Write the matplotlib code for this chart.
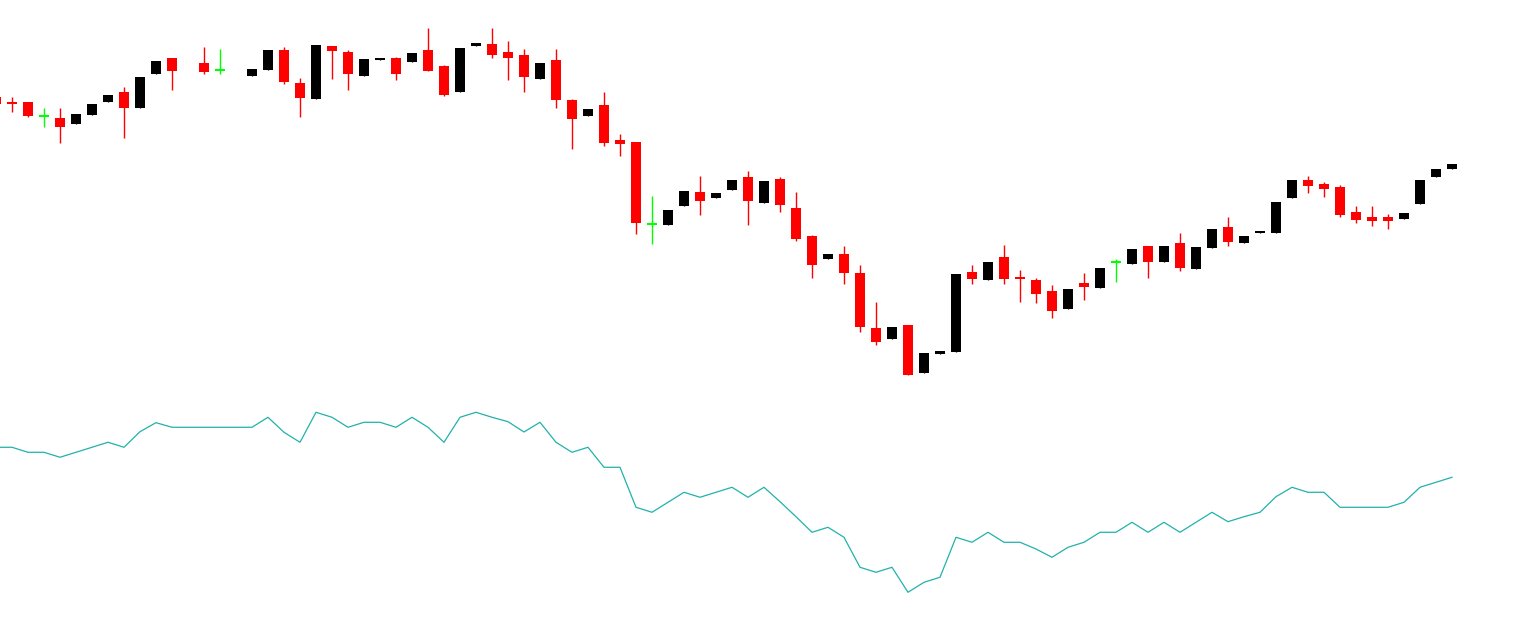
import matplotlib.pyplot as plt
import numpy as np

# candle index (-1 is the one cut off at the left edge)
idx = np.arange(-1, 91)

nan = np.nan
opens = [60.30, 59.80, 59.80, 58.37, 58.20, 57.65, 58.55, 59.85, 60.80, 59.25,
         62.65, 64.20, nan, 63.70, 62.97, nan, 62.45, 63.05, 65.00, 61.70,
         60.15, 65.40, 64.80, 62.45, 64.00, 64.20, 63.80, 65.00, 63.40, 60.85,
         65.45, 65.60, 64.80, 64.50, 62.15, 64.00, 60.00, 58.45, 59.50, 56.00,
         55.80, 47.57, 47.50, 49.40, 50.80, 50.20, 51.00, 52.30, 49.70, 52.10,
         49.20, 46.40, 44.10, 44.60, 42.70, 37.20, 36.10, 37.50, 32.70, 34.60,
         34.80, 42.80, 42.00, 44.30, 42.30, 42.00, 40.90, 39.10, 41.70, 41.20,
         43.80, 43.60, 45.40, 43.80, 45.70, 43.10, 45.20, 47.30, 45.70, 46.70,
         46.70, 50.20, 52.00, 51.60, 51.30, 48.80, 48.30, 48.30, 48.10, 49.60,
         52.30, 53.10]
highs = [60.30, 60.30, 59.80, 59.20, 59.20, 58.60, 59.60, 60.50, 61.30, 62.30,
         63.90, 64.20, nan, 65.30, 65.10, nan, 63.10, 65.00, 65.30, 62.20,
         65.50, 65.40, 65.00, 64.10, 64.20, 64.30, 64.70, 67.20, 63.50, 65.20,
         65.70, 67.20, 65.90, 65.10, 63.70, 65.10, 60.10, 59.10, 60.80, 56.60,
         55.80, 50.40, 49.00, 50.90, 52.40, 50.70, 52.00, 52.90, 51.90, 52.30,
         50.80, 46.50, 44.60, 45.40, 43.50, 39.80, 37.30, 37.50, 34.70, 34.90,
         42.60, 43.50, 43.80, 45.50, 43.00, 42.20, 41.50, 41.10, 42.70, 43.20,
         44.10, 45.10, 45.40, 45.40, 46.70, 45.30, 47.10, 48.30, 46.40, 46.90,
         49.80, 52.00, 52.40, 51.80, 51.50, 49.40, 49.40, 48.60, 48.70, 52.00,
         53.10, 53.60]
lows = [59.60, 58.85, 58.30, 57.30, 55.73, 57.65, 58.55, 59.85, 56.23, 59.25,
        62.65, 61.03, nan, 62.63, 62.63, nan, 62.45, 63.05, 61.63, 58.33,
        60.15, 62.13, 61.03, 62.45, 64.00, 62.03, 63.80, 62.93, 60.43, 60.85,
        65.45, 64.23, 62.03, 60.83, 62.15, 59.23, 55.13, 58.45, 55.43, 54.43,
        46.63, 45.63, 47.50, 49.40, 48.50, 50.20, 51.00, 47.50, 49.70, 48.80,
        45.90, 42.20, 44.10, 41.60, 36.80, 35.50, 36.10, 32.50, 32.70, 34.60,
        34.80, 41.60, 42.00, 41.60, 39.80, 39.70, 38.20, 39.10, 40.00, 41.20,
        41.80, 43.60, 42.23, 43.80, 42.93, 43.10, 45.20, 45.43, 45.70, 46.70,
        46.70, 50.20, 50.70, 50.30, 48.30, 47.70, 47.40, 47.10, 48.10, 49.60,
        52.30, 53.10]
closes = [59.60, 59.65, 58.45, 58.37, 57.30, 58.60, 59.60, 60.50, 59.23, 62.30,
          63.90, 62.93, nan, 62.83, 62.97, nan, 63.10, 65.00, 61.83, 60.23,
          65.50, 64.93, 62.63, 64.10, 64.20, 62.63, 64.70, 62.93, 60.53, 65.20,
          65.70, 64.53, 64.23, 62.33, 63.70, 60.03, 58.13, 59.10, 55.73, 55.63,
          47.73, 47.57, 49.00, 50.90, 49.90, 50.70, 52.00, 49.90, 51.90, 49.50,
          46.10, 43.50, 44.60, 42.70, 37.30, 35.80, 37.30, 32.50, 34.70, 34.90,
          42.60, 42.10, 43.80, 42.10, 42.10, 40.60, 38.90, 41.10, 41.30, 43.20,
          43.80, 45.10, 43.80, 45.40, 43.20, 45.30, 47.10, 45.83, 46.40, 46.90,
          49.80, 52.00, 51.40, 51.10, 48.50, 48.00, 47.90, 47.90, 48.70, 52.00,
          53.10, 53.60]

# oscillator shown under the candles
osc = [53.18, 53.18, 51.93, 51.93, 50.68, 51.93, 53.18, 54.43, 53.18, 57.08,
       59.33, 58.18, 58.18, 58.18, 58.18, 58.18, 58.18, 60.68, 56.93, 54.43,
       61.93, 60.68, 58.18, 59.43, 59.43, 58.18, 60.68, 58.18, 54.43, 60.68,
       61.93, 60.68, 59.58, 57.00, 59.43, 54.43, 51.93, 53.18, 48.18, 48.18,
       38.18, 36.93, 39.43, 41.93, 40.68, 41.93, 43.18, 40.68, 43.18, 39.58,
       35.83, 31.93, 33.18, 30.68, 23.18, 21.93, 23.18, 16.93, 19.43, 20.68,
       30.68, 29.43, 31.93, 29.43, 29.43, 27.75, 25.68, 28.18, 29.43, 31.93,
       31.93, 34.43, 31.93, 34.43, 31.93, 34.43, 36.93, 34.58, 35.83, 36.93,
       40.83, 43.18, 41.93, 41.93, 38.18, 38.18, 38.18, 38.18, 39.43, 43.18,
       44.43, 45.68]

o = np.array(opens)
h = np.array(highs)
l = np.array(lows)
c = np.array(closes)

fig = plt.figure(figsize=(15.34, 6.27), dpi=100)
ax = fig.add_axes([0, 237 / 627, 1, 390 / 627])
ax2 = fig.add_axes([0, 0, 1, 227 / 627])

valid = ~np.isnan(o)
up = valid & (c > o)
down = valid & (c < o)
doji = valid & (c == o)

# wicks
for mask, col in ((up, "black"), (down, "#ff0000"), (doji, "#00ff00")):
    ax.vlines(idx[mask], l[mask], h[mask], color=col, lw=1.0)

# bodies
ax.bar(idx[up], c[up] - o[up], bottom=o[up], width=0.6, color="black", lw=0)
ax.bar(idx[down], o[down] - c[down], bottom=c[down], width=0.68,
       color="#ff0000", lw=0)
ax.hlines(c[doji], idx[doji] - 0.34, idx[doji] + 0.34, color="#00ff00", lw=1.5)

ax.set_xlim(-0.75, 95.125)
ax.set_ylim(31.0, 70.0)
ax.axis("off")

ax2.plot(idx, osc, color="#20b2aa", lw=0.9)
ax2.set_xlim(-0.75, 95.125)
ax2.set_ylim(8.25, 65.0)
ax2.axis("off")

fig.savefig("out.png", dpi=100, facecolor="white")
